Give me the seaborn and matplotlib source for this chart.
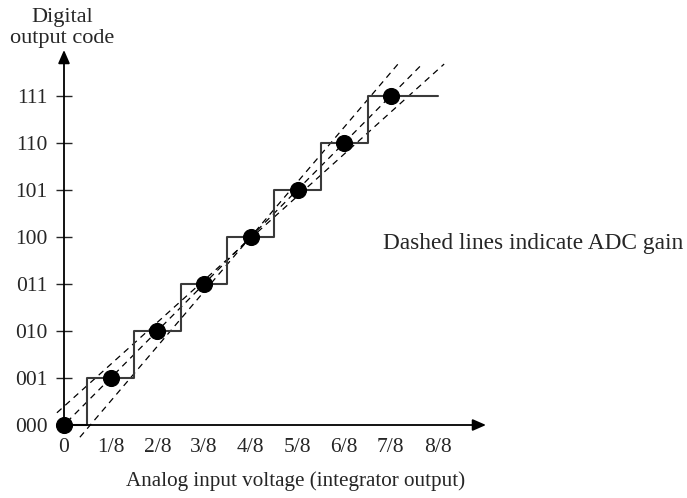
import matplotlib
matplotlib.use("Agg")
import matplotlib.pyplot as plt
import seaborn as sns
import pandas as pd

# ---- data ----
code_values = [0, 1, 2, 3, 4, 5, 6, 7]
code_labels = ["000", "001", "010", "011", "100", "101", "110", "111"]
x_tick_values = [0, 0.125, 0.25, 0.375, 0.5, 0.625, 0.75, 0.875, 1.0]
x_tick_labels = ["0", "1/8", "2/8", "3/8", "4/8", "5/8", "6/8", "7/8", "8/8"]

dot_x = [0, 0.125, 0.25, 0.375, 0.5, 0.625, 0.75, 0.875]
dot_y = [0, 1, 2, 3, 4, 5, 6, 7]

stair_x = [0, 0.0625, 0.1875, 0.3125, 0.4375, 0.5625, 0.6875, 0.8125, 1.0]
stair_y = [0, 1, 2, 3, 4, 5, 6, 7, 7]

gain_high_x = [0.0425, 0.894]
gain_high_y = [-0.26, 7.68]
gain_ideal_x = [0.0075, 0.959]
gain_ideal_y = [0.06, 7.68]
gain_low_x = [-0.019, 1.0175]
gain_low_y = [0.26, 7.68]

sns.set_style("white")
plt.rcParams["font.family"] = ["Liberation Serif", "DejaVu Serif"]

W, H = 687, 498
fig = plt.figure(figsize=(W / 100, H / 100), dpi=100)
x0, x1 = 64, 486
y0, y1 = 425, 50
ax = fig.add_axes([x0 / W, 1 - y0 / H, (x1 - x0) / W, (y0 - y1) / H])
ax.set_xlim(0, (x1 - x0) / 373.6)
ax.set_ylim(0, (y0 - y1) / 47.0)

for s in ax.spines.values():
    s.set_visible(False)

# staircase
stairs = pd.DataFrame({"x": stair_x, "y": stair_y})
ax.step(stairs["x"], stairs["y"], where="post", color="#3a3a3a", lw=1.5, clip_on=False, zorder=3)

# gain lines
for gx, gy in [(gain_high_x, gain_high_y), (gain_ideal_x, gain_ideal_y), (gain_low_x, gain_low_y)]:
    df = pd.DataFrame({"x": gx, "y": gy})
    sns.lineplot(data=df, x="x", y="y", ax=ax, color="black", lw=0.9,
                 dashes=False, linestyle=(0, (5, 4)), clip_on=False, zorder=2)

# dots
dots = pd.DataFrame({"x": dot_x, "y": dot_y})
sns.scatterplot(data=dots, x="x", y="y", ax=ax, s=130, color="black",
                edgecolor="black", clip_on=False, zorder=5)

# axes arrows
arrow = dict(arrowstyle="-|>,head_length=0.8,head_width=0.35", color="black", lw=1.3,
             shrinkA=0, shrinkB=0)
ax.annotate("", xy=(0, 1), xytext=(0, 0), xycoords="axes fraction",
            arrowprops=arrow, annotation_clip=False)
ax.annotate("", xy=(1, 0), xytext=(0, 0), xycoords="axes fraction",
            arrowprops=arrow, annotation_clip=False)

ax.set_yticks(code_values)
ax.set_yticklabels(code_labels)
ax.set_xticks(x_tick_values)
ax.set_xticklabels(x_tick_labels)
ax.tick_params(axis="y", direction="inout", length=11.5, width=1.0, pad=6, labelsize=15.5, left=True)
ax.tick_params(axis="x", length=0, pad=9, labelsize=15.5, bottom=True)
ax.set_xlabel("")
ax.set_ylabel("")

ax.text(0.854, 3.87, "Dashed lines indicate ADC gain", ha="left", va="center",
        fontsize=16.8, clip_on=False)

fig.text(62 / W, 1 - 28 / H, "Digital\noutput code", ha="center", va="center",
         fontsize=16, linespacing=1.15)
fig.text(296 / W, 1 - 481 / H, "Analog input voltage (integrator output)", ha="center",
         va="center", fontsize=15.2)

fig.savefig("out.png", dpi=100)
